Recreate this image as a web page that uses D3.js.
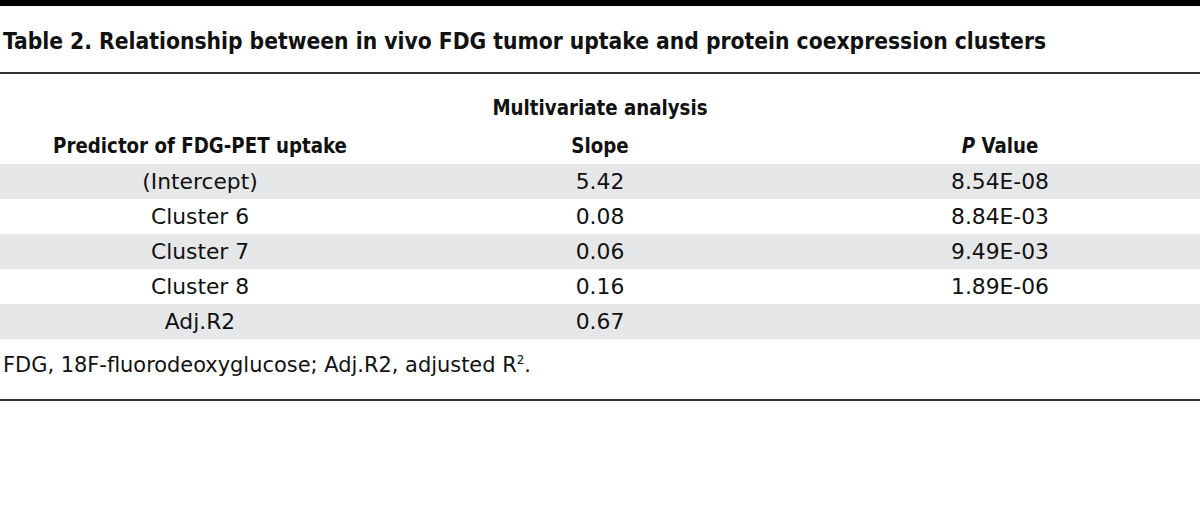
<!DOCTYPE html>
<html>
<head>
<meta charset="utf-8">
<script src="https://cdn.jsdelivr.net/npm/d3@7"></script>
<style>
  html, body { margin: 0; padding: 0; background: #fff; }
  svg { display: block; }
</style>
</head>
<body>
<svg id="chart" width="1200" height="523"></svg>
<script>
// ---- data ----
const titleText = "Table 2. Relationship between in vivo FDG tumor uptake and protein coexpression clusters";
const groupHeader = "Multivariate analysis";
const columnHeaders = ["Predictor of FDG-PET uptake", "Slope", "P Value"];
const predictors = ["(Intercept)", "Cluster 6", "Cluster 7", "Cluster 8", "Adj.R2"];
const slopes = ["5.42", "0.08", "0.06", "0.16", "0.67"];
const pValues = ["8.54E-08", "8.84E-03", "9.49E-03", "1.89E-06", ""];
const footnoteMain = "FDG, 18F-fluorodeoxyglucose; Adj.R2, adjusted R";
const footnoteSup = "2";
const footnoteEnd = ".";

// ---- layout ----
const W = 1200;
const FONT = "'DejaVu Sans Condensed', 'Liberation Sans Narrow', 'Noto Sans', sans-serif";
const svg = d3.select("#chart");

const colX = d3.scaleOrdinal().domain([0, 1, 2]).range([200, 600, 1000]);
const rowY = d3.scaleBand().domain(d3.range(predictors.length)).range([164, 339]).paddingInner(0);

// top black bar
svg.append("rect").attr("x", 0).attr("y", 0).attr("width", W).attr("height", 6).attr("fill", "#000");
// title rule
svg.append("rect").attr("x", 0).attr("y", 72).attr("width", W).attr("height", 2).attr("fill", "#333");
// bottom rule
svg.append("rect").attr("x", 0).attr("y", 399).attr("width", W).attr("height", 2).attr("fill", "#333");

// striped rows
svg.append("g").selectAll("rect")
  .data(predictors.map((d, i) => i).filter(i => i % 2 === 0))
  .join("rect")
  .attr("x", 0).attr("width", W)
  .attr("y", i => rowY(i)).attr("height", rowY.bandwidth())
  .attr("fill", "#e6e7e8");

function fitText(g, targetWidth, sample) {
  const t = g.append("text").text(sample);
  const w = t.node().getComputedTextLength();
  t.remove();
  return targetWidth / w;
}

function makeStyle(weight, size) {
  return sel => sel.attr("font-family", FONT).attr("font-weight", weight).attr("font-size", size).attr("fill", "#111");
}

const boldHead = makeStyle(700, 21);
const regular = makeStyle(400, 21);
const titleStyle = makeStyle(700, 22.5);

// measure ratios
const measG = svg.append("g");
measG.call(titleStyle);
const rTitle = fitText(measG, 1044, titleText);
measG.call(boldHead);
const rHead = fitText(measG, 294, columnHeaders[0]);
measG.call(regular);
const rData = fitText(measG, 98, pValues[0]);
const rFoot = fitText(measG, 534, footnoteMain + "2.");
measG.remove();

function placeText(parent, x, y, anchor, ratio, style) {
  return parent.append("text")
    .attr("transform", `translate(${x},${y}) scale(${ratio},1)`)
    .attr("text-anchor", anchor)
    .call(style);
}

// title
placeText(svg, 3, 48.5, "start", rTitle, titleStyle).text(titleText);

// group header
placeText(svg, 600, 115, "middle", rHead, boldHead).text(groupHeader);

// column headers
columnHeaders.forEach((h, i) => {
  const t = placeText(svg, colX(i), 153, "middle", rHead, boldHead);
  if (h.startsWith("P ")) {
    t.append("tspan").attr("font-style", "italic").text("P");
    t.append("tspan").text(" Value");
  } else {
    t.text(h);
  }
});

// body rows
const cols = [predictors, slopes, pValues];
cols.forEach((arr, ci) => {
  arr.forEach((v, ri) => {
    if (!v) return;
    placeText(svg, colX(ci), rowY(ri) + rowY.bandwidth() / 2 + 7.5, "middle", rData, regular).text(v);
  });
});

// footnote
const fn = placeText(svg, 3, 372, "start", rFoot, regular);
fn.append("tspan").text(footnoteMain);
fn.append("tspan").attr("font-size", 12).attr("dy", -8).text(footnoteSup);
fn.append("tspan").attr("dy", 8).text(footnoteEnd);
</script>
</body>
</html>
